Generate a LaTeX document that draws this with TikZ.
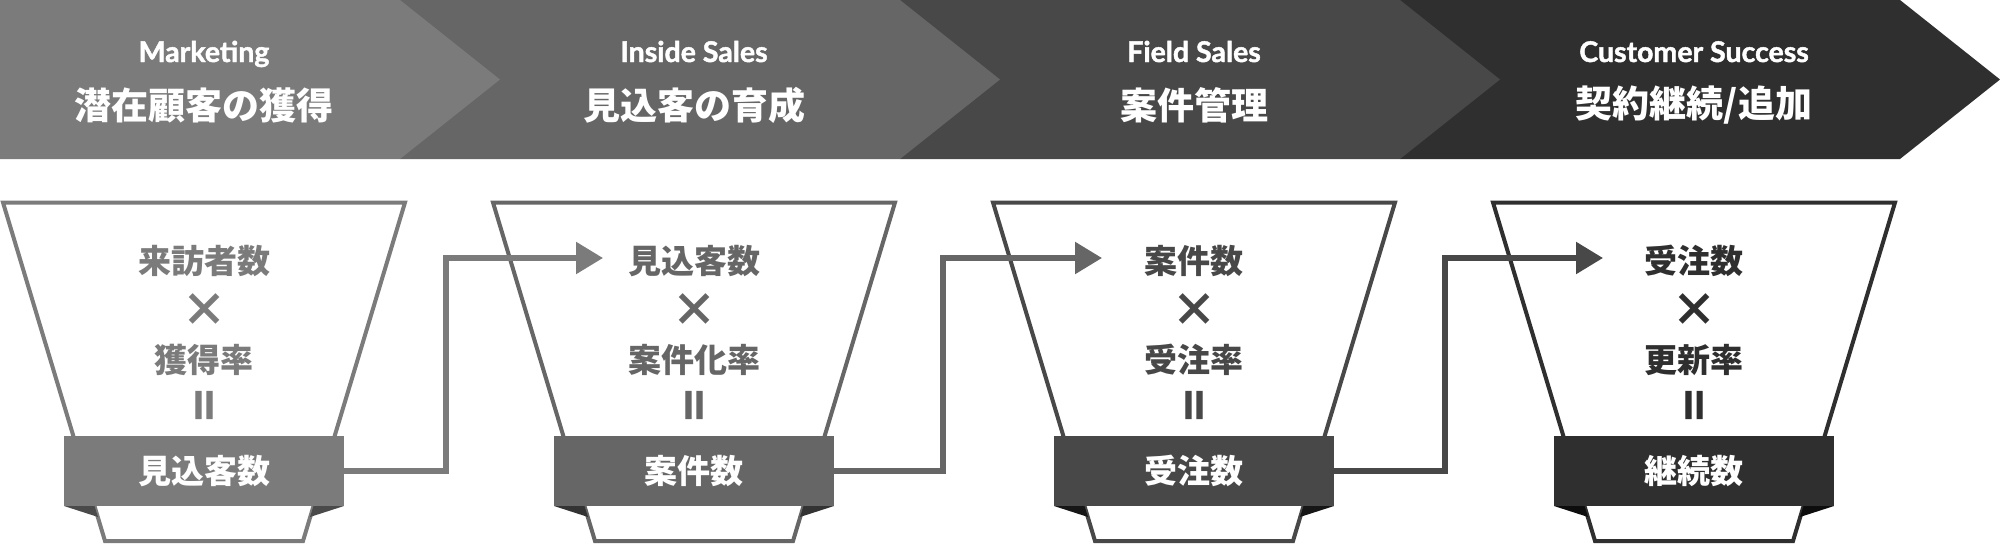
\documentclass[tikz,border=0pt]{standalone}
\usepackage{fontspec}
\setmainfont{Lato}[BoldFeatures={FakeBold=1.6}]
\newfontfamily\latoheavy{Lato}[BoldFeatures={FakeBold=3}]
\newfontfamily\jp{Noto Sans CJK JP}
\usetikzlibrary{arrows.meta}
\definecolor{cA}{HTML}{7B7B7B}
\definecolor{cB}{HTML}{666666}
\definecolor{cC}{HTML}{484848}
\definecolor{cD}{HTML}{2F2F2F}
\definecolor{fA}{HTML}{4A4A4A}
\definecolor{fB}{HTML}{333333}
\definecolor{fC}{HTML}{161616}
\definecolor{fD}{HTML}{0D0D0D}
\begin{document}
\begin{tikzpicture}[x=1pt,y=-1pt,
  en/.style={font=\bfseries\fontsize{28.5}{30}\selectfont, text=white, anchor=base, inner sep=0pt},
  ja/.style={font=\jp\bfseries\fontsize{37}{40}\selectfont, text=white, inner sep=0pt},
  row/.style={font=\jp\bfseries\fontsize{33}{36}\selectfont, inner sep=0pt},
  times/.style={font=\jp\bfseries\fontsize{46}{48}\selectfont, inner sep=0pt},
  eqbar/.style={font=\latoheavy\bfseries\fontsize{37.6}{40}\selectfont, inner sep=0pt},
  band/.style={rectangle, minimum width=280pt, minimum height=70pt, inner sep=0pt, text=white, font=\jp\bfseries\fontsize{33}{36}\selectfont},
  funnel/.style={line width=4pt, line join=miter, fill=white},
  conn/.style={line width=5.5pt, line join=miter, -{Triangle[length=27pt,width=31pt]}},
]
\useasboundingbox (0,0) rectangle (2000,546);
\fill[white] (0,0) rectangle (2000,546);
% banner
\fill[cD] (1400,0) -- (1900,0) -- (2000,79.5) -- (1900,159) -- (1400,159) -- cycle;
\fill[cC] (900,0) -- (1400,0) -- (1500,79.5) -- (1400,159) -- (900,159) -- cycle;
\fill[cB] (400,0) -- (900,0) -- (1000,79.5) -- (900,159) -- (400,159) -- cycle;
\fill[cA] (0,0) -- (400,0) -- (500,79.5) -- (400,159) -- (0,159) -- cycle;
\node[en] (en1) at (204,62) {Marketing};
\node[ja] (ja1) at (204,105.5) {潜在顧客の獲得};
\node[en] (en2) at (694,62) {Inside Sales};
\node[ja] (ja2) at (694,105.5) {見込客の育成};
\node[en] (en3) at (1194,62) {Field Sales};
\node[ja] (ja3) at (1194,105.5) {案件管理};
\node[en] (en4) at (1694,62) {Customer Success};
\node[ja] (ja4) at (1694,105.5) {契約継続/追加};
% funnels
\foreach \c/\col in {204/cA, 694/cB, 1194/cC, 1694/cD}{
  \draw[funnel, draw=\col] (\c-201,202.5) -- (\c+201,202.5) -- (\c+99,541) -- (\c-99,541) -- cycle;
}
% connectors
\coordinate (t1) at (603,258);
\coordinate (t2) at (1102,258);
\coordinate (t3) at (1603,258);
\node[band, fill=cA] (b1) at (204,471) {見込客数};
\node[band, fill=cB] (b2) at (694,471) {案件数};
\node[band, fill=cC] (b3) at (1194,471) {受注数};
\node[band, fill=cD] (b4) at (1694,471) {継続数};
\draw[conn, cA] (b1.east) -- ++(102,0) |- (t1);
\draw[conn, cB] (b2.east) -- ++(109,0) |- (t2);
\draw[conn, cC] (b3.east) -- ++(111,0) |- (t3);
% folds
\foreach \c/\col in {204/fA, 694/fB, 1194/fC, 1694/fD}{
  \fill[\col] (\c-140,506) -- (\c-109.5,506) -- (\c-106,517) -- cycle;
  \fill[\col] (\c+140,506) -- (\c+109.5,506) -- (\c+106,517) -- cycle;
}
% funnel texts
\node[row, text=cA] (p1) at (204,261) {来訪者数};
\node[times, text=cA] (x1) at (204,310) {×};
\node[row, text=cA] (q1) at (204,360) {獲得率};
\node[eqbar, text=cA] (e1) at (204,405) {II};
\node[row, text=cB] (p2) at (694,261) {見込客数};
\node[times, text=cB] (x2) at (694,310) {×};
\node[row, text=cB] (q2) at (694,360) {案件化率};
\node[eqbar, text=cB] (e2) at (694,405) {II};
\node[row, text=cC] (p3) at (1194,261) {案件数};
\node[times, text=cC] (x3) at (1194,310) {×};
\node[row, text=cC] (q3) at (1194,360) {受注率};
\node[eqbar, text=cC] (e3) at (1194,405) {II};
\node[row, text=cD] (p4) at (1694,261) {受注数};
\node[times, text=cD] (x4) at (1694,310) {×};
\node[row, text=cD] (q4) at (1694,360) {更新率};
\node[eqbar, text=cD] (e4) at (1694,405) {II};
\end{tikzpicture}
\end{document}
